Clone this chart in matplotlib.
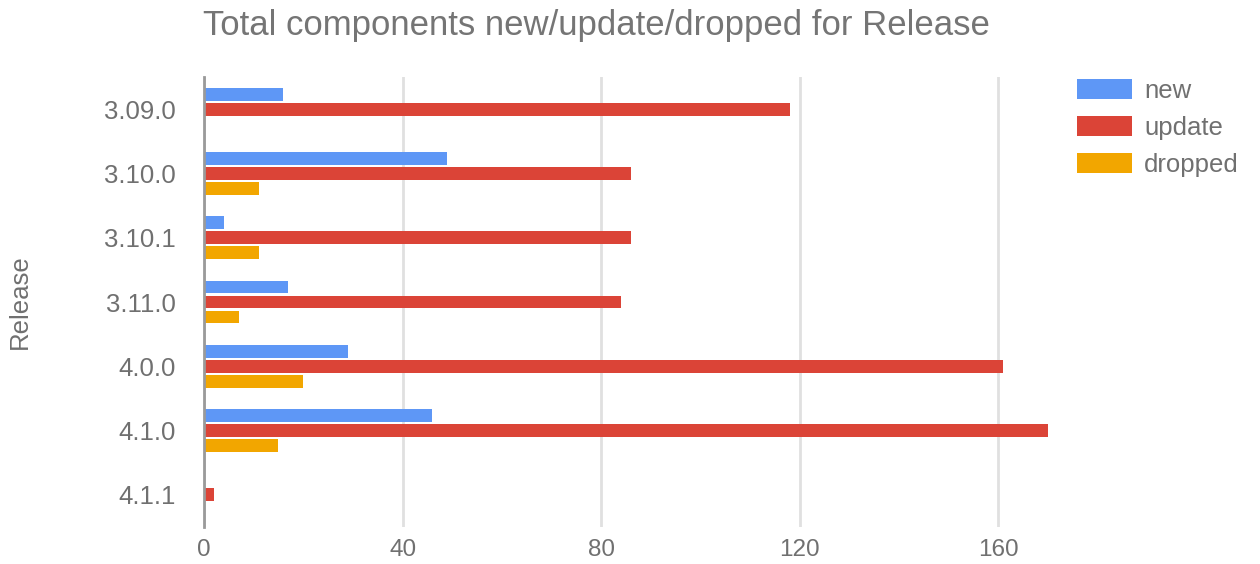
import matplotlib
matplotlib.use("Agg")
import matplotlib.pyplot as plt
import numpy as np

releases = ["3.09.0", "3.10.0", "3.10.1", "3.11.0", "4.0.0", "4.1.0", "4.1.1"]
new_vals = [16, 49, 4, 17, 29, 46, 0]
update_vals = [118, 86, 86, 84, 161, 170, 2]
dropped_vals = [0, 11, 11, 7, 20, 15, 0]
series_names = ["new", "update", "dropped"]
colors = ["#5e97f6", "#db4437", "#f2a600"]
xticks = [0, 40, 80, 120, 160]

plt.rcParams['font.family'] = ['Liberation Sans', 'DejaVu Sans']

W, H = 1260, 564
fig = plt.figure(figsize=(W / 100, H / 100), dpi=100)
ax = fig.add_axes([204 / W, 1 - 527 / H, (1058 - 204) / W, (527 - 77) / H])

y = np.arange(len(releases))
step = 0.233
height = 0.2
for i, (vals, name, c) in enumerate(zip([new_vals, update_vals, dropped_vals], series_names, colors)):
    ax.barh(y + (i - 1) * step, vals, height=height, color=c, label=name, zorder=3)

ax.set_ylim(len(releases) - 0.5, -0.5)
ax.set_xlim(0, 172)
ax.set_xticks(xticks)
ax.set_yticks(y)
ax.set_yticklabels(releases)
ax.grid(axis='x', color='#e0e0e0', linewidth=2, zorder=0)
ax.set_axisbelow(True)
for s in ['top', 'right', 'bottom']:
    ax.spines[s].set_visible(False)
ax.spines['left'].set_color('#9a9a9a')
ax.spines['left'].set_linewidth(2)
ax.spines['left'].set_zorder(4)
ax.tick_params(axis='both', length=0, labelcolor='#707070')
ax.tick_params(axis='y', pad=20, labelsize=18.5)
ax.tick_params(axis='x', pad=9, labelsize=17.5)
ax.set_ylabel("Release", fontsize=18.5, color='#707070', labelpad=52)

fig.text(203 / W, 1 - 25 / H, "Total components new/update/dropped for Release",
         fontsize=25, color='#757575', ha='left', va='center')

leg = ax.legend(loc='upper left', bbox_to_anchor=(1077 / W, 1 - 79 / H),
                bbox_transform=fig.transFigure, frameon=False, fontsize=18.5,
                handlelength=2.15, handleheight=0.85, handletextpad=0.46,
                labelspacing=0.5, borderpad=0, borderaxespad=0)
for t in leg.get_texts():
    t.set_color('#707070')

fig.savefig("out.png", dpi=100)
